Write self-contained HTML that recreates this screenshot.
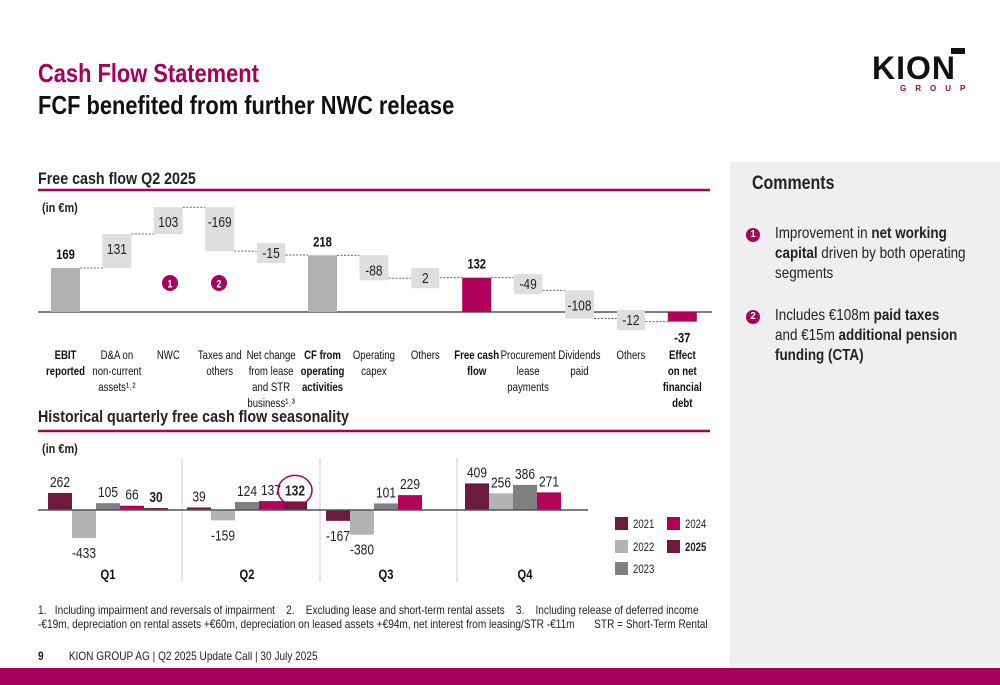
<!DOCTYPE html>
<html><head><meta charset="utf-8"><style>
body{margin:0;width:1000px;height:685px;overflow:hidden;background:#fff;font-family:"Liberation Sans",sans-serif;position:relative}
.abs{position:absolute}
.nar{transform:scaleX(0.84);transform-origin:left top;white-space:nowrap}
</style></head><body>
<div class="abs nar" style="left:38px;top:58px;font-size:26px;font-weight:bold;color:#a8005a">Cash Flow Statement</div>
<div class="abs nar" style="left:38px;top:90px;font-size:26px;font-weight:bold;color:#111">FCF benefited from further NWC release</div>
<div class="abs" style="left:872px;top:52px;width:95px;height:45px">
 <div style="position:absolute;right:2px;top:-4px;width:14px;height:6px;background:#111"></div>
 <div style="font-family:'Liberation Sans',sans-serif;font-weight:bold;font-size:32px;letter-spacing:1px;color:#111;line-height:32px">KION</div>
 <div style="font-family:'Liberation Sans',sans-serif;font-size:8px;letter-spacing:9px;color:#a8005a;padding-left:28px;font-weight:bold">GROUP</div>
</div>
<div class="abs" style="left:730px;top:162px;width:270px;height:506px;background:#efefef">
 <div class="nar" style="position:absolute;left:22px;top:11px;font-size:19px;font-weight:bold;color:#222">Comments</div>
 <div style="position:absolute;left:45px;top:62px;width:250px;font-size:16px;line-height:20px;color:#222;transform:scaleX(0.84);transform-origin:left top">Improvement in <b>net working capital</b> driven by both operating segments</div>
 <div style="position:absolute;left:16px;top:66px;width:14px;height:14px;border-radius:50%;background:#a8005a;color:#fff;font-size:10px;font-weight:bold;text-align:center;line-height:14px">1</div>
 <div style="position:absolute;left:45px;top:144px;width:225px;font-size:16px;line-height:20px;color:#222;transform:scaleX(0.84);transform-origin:left top">Includes €108m <b>paid taxes</b> and €15m <b>additional pension funding (CTA)</b></div>
 <div style="position:absolute;left:16px;top:148px;width:14px;height:14px;border-radius:50%;background:#a8005a;color:#fff;font-size:10px;font-weight:bold;text-align:center;line-height:14px">2</div>
</div>
<div class="abs" style="left:0;top:668px;width:1000px;height:17px;background:#a8005a"></div>
<div class="abs nar" style="left:38px;top:603px;font-size:12px;line-height:14px;color:#222">1.&nbsp;&nbsp; Including impairment and reversals of impairment &nbsp;&nbsp;&nbsp;2.&nbsp;&nbsp;&nbsp; Excluding lease and short-term rental assets &nbsp;&nbsp;&nbsp;3.&nbsp;&nbsp;&nbsp; Including release of deferred income<br>-€19m, depreciation on rental assets +€60m, depreciation on leased assets +€94m, net interest from leasing/STR -€11m &nbsp;&nbsp;&nbsp;&nbsp;&nbsp; STR = Short-Term Rental</div>
<div class="abs nar" style="left:38px;top:649px;font-size:12px;color:#222"><b>9</b>&nbsp;&nbsp;&nbsp;&nbsp;&nbsp;&nbsp;&nbsp;&nbsp; KION GROUP AG | Q2 2025 Update Call | 30 July 2025</div>

<svg class="abs" style="left:0;top:0" width="730" height="600" id="chart" font-family="Liberation Sans, sans-serif">
 <text transform="translate(38,184) scale(0.84,1)" font-size="17" font-weight="bold" fill="#222">Free cash flow Q2 2025</text>
 <line x1="38" y1="190" x2="710" y2="190" stroke="#a8005a" stroke-width="2.5"/>
 <text transform="translate(42,212) scale(0.84,1)" font-size="13" font-weight="bold" fill="#222">(in €m)</text>
 <text transform="translate(38,422) scale(0.84,1)" font-size="17" font-weight="bold" fill="#222">Historical quarterly free cash flow seasonality</text>
 <line x1="38" y1="431" x2="710" y2="431" stroke="#a8005a" stroke-width="2.5"/>
 <text transform="translate(42,453) scale(0.84,1)" font-size="13" font-weight="bold" fill="#222">(in €m)</text>
 <g id="wf"></g><g id="qc"></g>
</svg>
<script>
// Waterfall data
const wfLabels=[["EBIT","reported"],["D&A on","non-current","assets¹˒²"],["NWC"],["Taxes and","others"],["Net change","from lease","and STR","business¹˒³"],["CF from","operating","activities"],["Operating","capex"],["Others"],["Free cash","flow"],["Procurement","lease","payments"],["Dividends","paid"],["Others"],["Effect","on net","financial","debt"]];
const wfValues=[169,131,103,-169,-15,218,-88,2,132,-49,-108,-12,-37];
const wfTypes=["total","delta","delta","delta","delta","total","delta","delta","fcf","delta","delta","delta","fcf"];
const wfBoldLabels=[true,false,false,false,false,true,false,false,true,false,false,false,true];
// Quarterly data
const quarters=["Q1","Q2","Q3","Q4"];
const years=["2021","2022","2023","2024","2025"];
const s2021=[262,39,-167,409];
const s2022=[-433,-159,-380,256];
const s2023=[105,124,101,386];
const s2024=[66,137,229,271];
const s2025=[30,132,null,null];

const NS="http://www.w3.org/2000/svg";
function mk(t,a,p){const e=document.createElementNS(NS,t);for(const k in a)e.setAttribute(k,a[k]);p.appendChild(e);return e;}
function txt(p,x,y,s,size,opts){const a=Object.assign({transform:'translate('+x+','+y+') scale(0.8,1)','font-size':size,'text-anchor':'middle',fill:'#222'},opts||{});const t=mk('text',a,p);t.textContent=s;return t;}
const wf=document.getElementById('wf');
const y0=312,sc=0.26,x0=51,step=51.4,bw=29;
const wy=v=>y0-v*sc, wx=i=>x0+i*step;
mk('line',{x1:38,y1:y0,x2:712,y2:y0,stroke:'#555','stroke-width':1.5},wf);
let run=0,prevLevel=0;
wfValues.forEach((v,i)=>{
 let a,b;
 if(wfTypes[i]==='delta'){a=run;b=run+v;run=b;}else{a=0;b=v;run=v;}
 const top=Math.min(wy(a),wy(b)),h=Math.max(Math.abs(wy(a)-wy(b)),1);
 const col=wfTypes[i]==='total'?'#b1b1b1':wfTypes[i]==='fcf'?'#b0005a':'#dedede';
 const r=mk('rect',{x:wx(i),y:top,width:bw,height:h,fill:col},wf);
 
 
 if(i>0){mk('line',{x1:wx(i-1)+bw,y1:wy(prevLevel),x2:wx(i),y2:wy(prevLevel),stroke:'#666','stroke-dasharray':'2,1.5'},wf);}
 prevLevel=run;
 const cx=wx(i)+bw/2;
 if(wfTypes[i]==='delta'){
  const cy=top+h/2;
  const ty=h<22?cy:top+15;
  mk('rect',{x:cx-14,y:ty-10,width:28,height:20,fill:'#dedede'},wf);
  txt(wf,cx,ty+5,v,15);
 }else{
  const ty=v>=0?top-9:top+h+21;
  txt(wf,cx,ty,v,14,{'font-weight':'bold',fill:'#111'});
 }
 wfLabels[i].forEach((ln,j)=>{txt(wf,cx,359+j*16,ln,12,{fill:'#111','font-weight':wfBoldLabels[i]?'bold':'normal'});});
});
[[170,1],[219,2]].forEach(([x,n])=>{mk('circle',{cx:x,cy:283,r:8,fill:'#a8005a'},wf);txt(wf,x,287.5,n,11,{'font-weight':'bold',fill:'#fff'});});

// Quarterly chart
const qc=document.getElementById('qc');
const qy0=510,qs=0.065,gx0=48,gstep=139,qbw=24;
const qy=v=>qy0-v*qs;
const series=[s2021,s2022,s2023,s2024,s2025];
const cols=['#6d1a3d','#b3b3b3','#808080','#b3005b','#6d1a3d'];
[182,320,457].forEach(x=>mk('line',{x1:x,y1:458,x2:x,y2:582,stroke:'#ccc'},qc));
quarters.forEach((q,qi)=>{
 series.forEach((s,si)=>{
  const v=s[qi]; if(v===null) return;
  const x=gx0+qi*gstep+si*qbw;
  const r=mk('rect',{x:x,y:Math.min(qy(0),qy(v)),width:qbw,height:Math.max(Math.abs(v*qs),1.5),fill:cols[si]},qc);
  
  
  txt(qc,x+qbw/2,v>=0?qy(v)-6:qy(v)+20,v,15,{'font-weight':si===4?'bold':'normal'});
  if(si===4&&qi===1){mk('ellipse',{cx:x+qbw/2,cy:qy(v)-11,rx:17,ry:15,fill:'none',stroke:'#b0005a','stroke-width':1.5},qc);}
 });
 txt(qc,gx0+qi*gstep+60,579,q,14,{'font-weight':'bold',fill:'#111'});
});
mk('line',{x1:38,y1:qy0,x2:588,y2:qy0,stroke:'#555','stroke-width':1.5},qc);
const lp=[[615,517],[615,540],[615,562],[667,517],[667,540]];
years.forEach((y,i)=>{
 const g=mk('rect',{x:lp[i][0],y:lp[i][1],width:13,height:13,fill:cols[i]},qc);
 
 
 txt(qc,lp[i][0]+18,lp[i][1]+11,y,12,{'text-anchor':'start','font-weight':i===4?'bold':'normal'});
});
</script>
</body></html>
